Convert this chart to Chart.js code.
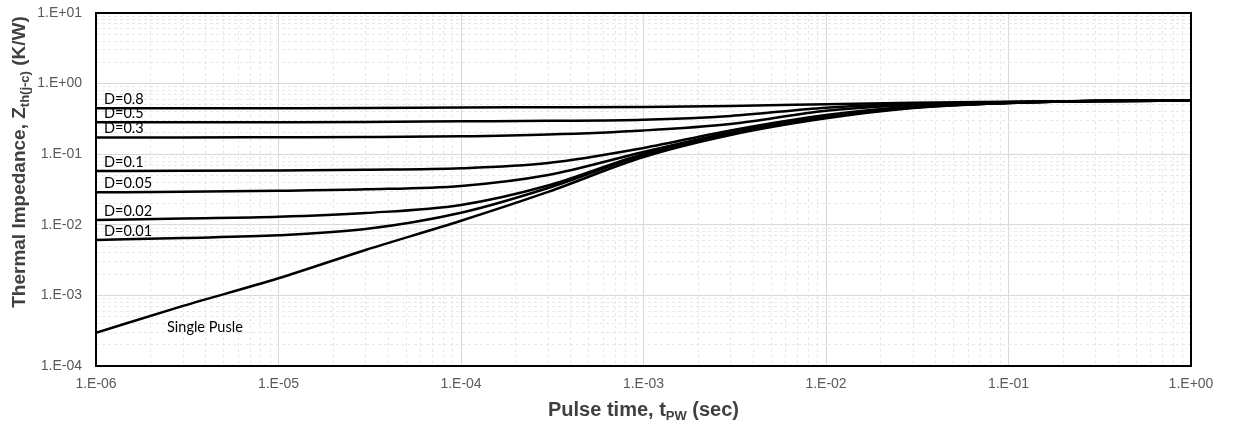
<!DOCTYPE html>
<html>
<head>
<meta charset="utf-8">
<script src="https://cdn.jsdelivr.net/npm/chart.js@4.4.1/dist/chart.umd.min.js"></script>
<style>
  html, body { margin: 0; padding: 0; background: #fff; }
  #wrap { width: 1235px; height: 425px; }
</style>
</head>
<body>
<div id="wrap"><canvas id="zthChart" width="1235" height="425"></canvas></div>
<script>
// Pulse time (s) sample points
const pulseTimes = [1e-6, 3e-6, 1e-5, 3e-5, 1e-4, 3e-4, 1e-3, 3e-3, 1e-2, 3e-2, 1e-1, 3e-1, 1];

const curveLabels = ['D=0.8', 'D=0.5', 'D=0.3', 'D=0.1', 'D=0.05', 'D=0.02', 'D=0.01', 'Single Pusle'];

// Zth(j-c) in K/W
const zthD08    = [0.447, 0.448, 0.449, 0.451, 0.459, 0.462, 0.466, 0.482, 0.509, 0.535, 0.552, 0.567, 0.573];
const zthD05    = [0.283, 0.283, 0.284, 0.286, 0.292, 0.297, 0.307, 0.348, 0.456, 0.514, 0.548, 0.567, 0.573];
const zthD03    = [0.173, 0.173, 0.174, 0.175, 0.179, 0.190, 0.217, 0.268, 0.413, 0.498, 0.543, 0.567, 0.573];
const zthD01    = [0.0578, 0.0581, 0.0588, 0.0601, 0.0631, 0.075, 0.1225, 0.217, 0.359, 0.474, 0.540, 0.567, 0.573];
const zthD005   = [0.0288, 0.0293, 0.0304, 0.0318, 0.0355, 0.0507, 0.1075, 0.203, 0.344, 0.467, 0.535, 0.567, 0.573];
const zthD002   = [0.0117, 0.0123, 0.0130, 0.0147, 0.0191, 0.0360, 0.1007, 0.196, 0.336, 0.461, 0.533, 0.567, 0.573];
const zthD001   = [0.0061, 0.0065, 0.0071, 0.0087, 0.0148, 0.0332, 0.0975, 0.193, 0.331, 0.459, 0.531, 0.567, 0.573];
const zthSingle = [0.000296, 0.00071, 0.00175, 0.0044, 0.0114, 0.0292, 0.0912, 0.187, 0.322, 0.451, 0.531, 0.567, 0.573];

const xDecades = [1e-6, 1e-5, 1e-4, 1e-3, 1e-2, 1e-1, 1];
const xTickLabels = ['1.E-06', '1.E-05', '1.E-04', '1.E-03', '1.E-02', '1.E-01', '1.E+00'];
const yDecades = [1e-4, 1e-3, 1e-2, 1e-1, 1, 10];
const yTickLabels = ['1.E-04', '1.E-03', '1.E-02', '1.E-01', '1.E+00', '1.E+01'];

// where the "Single Pusle" note sits (data coords)
const singleNoteAt = { x: 2.45e-6, y: 3.0e-4 };

const tickFont = { family: '"Liberation Sans", Arial, sans-serif', size: 14 };
const noteFont = '14.5px Lato, "Noto Sans", sans-serif';

function decadeIndex(decades, v) {
  return decades.findIndex(d => Math.abs(Math.log10(v) - Math.log10(d)) < 1e-6);
}

// decade ticks plus 2..9 minor ticks, for Excel-like grid
function logTicks(decades) {
  const ticks = [];
  decades.forEach((d, i) => {
    ticks.push({ value: d, major: true });
    if (i < decades.length - 1) {
      for (let m = 2; m <= 9; m++) ticks.push({ value: d * m, major: false });
    }
  });
  return ticks;
}

function axisOptions(decades, labels, min, max, padding) {
  return {
    type: 'logarithmic',
    min, max,
    afterBuildTicks: scale => { scale.ticks = logTicks(decades); },
    ticks: {
      autoSkip: false,
      maxRotation: 0,
      padding,
      color: '#595959',
      font: tickFont,
      callback: v => {
        const i = decadeIndex(decades, v);
        return i >= 0 ? labels[i] : '';
      }
    },
    grid: {
      drawTicks: false,
      lineWidth: 1,
      color: ctx => (ctx.tick && decadeIndex(decades, ctx.tick.value) >= 0) ? '#d9d9d9' : '#e8e8e8'
    },
    border: {
      display: false,
      dash: ctx => (ctx.tick && decadeIndex(decades, ctx.tick.value) < 0) ? [3, 3] : []
    }
  };
}

function drawPieces(ctx, pieces, cx, baseline) {
  // pieces: [text, size, shift]
  let total = 0;
  pieces.forEach(p => {
    ctx.font = 'bold ' + p[1] + 'px "Liberation Sans", Arial, sans-serif';
    total += ctx.measureText(p[0]).width;
  });
  let x = cx - total / 2;
  ctx.textAlign = 'left';
  ctx.textBaseline = 'alphabetic';
  pieces.forEach(p => {
    ctx.font = 'bold ' + p[1] + 'px "Liberation Sans", Arial, sans-serif';
    ctx.fillText(p[0], x, baseline + (p[2] || 0));
    x += ctx.measureText(p[0]).width;
  });
}

const chartDecor = {
  id: 'chartDecor',
  afterDatasetsDraw(chart) {
    const { ctx, chartArea, scales } = chart;
    ctx.save();

    // curve labels at the left edge
    ctx.fillStyle = '#000';
    ctx.font = noteFont;
    ctx.textAlign = 'left';
    ctx.textBaseline = 'alphabetic';
    chart.data.datasets.forEach(ds => {
      if (ds.label === 'Single Pusle') return;
      const y = scales.y.getPixelForValue(ds.data[0].y);
      ctx.fillText(ds.label, chartArea.left + 8, y - 4);
    });
    ctx.fillText('Single Pusle', scales.x.getPixelForValue(singleNoteAt.x), scales.y.getPixelForValue(singleNoteAt.y));

    // plot frame
    ctx.strokeStyle = '#000';
    ctx.lineWidth = 2;
    ctx.strokeRect(chartArea.left, chartArea.top, chartArea.right - chartArea.left, chartArea.bottom - chartArea.top);

    // axis titles
    ctx.fillStyle = '#404040';
    drawPieces(ctx, [['Pulse time, t', 20], ['PW', 13, 4], [' (sec)', 20]],
      (chartArea.left + chartArea.right) / 2, 416);

    ctx.translate(25, 162);
    ctx.rotate(-Math.PI / 2);
    drawPieces(ctx, [['Thermal Impedance, Z', 19], ['th(j-c)', 13, 4], [' (K/W)', 19]], 0, 0);
    ctx.restore();
  }
};

const series = [zthD08, zthD05, zthD03, zthD01, zthD005, zthD002, zthD001, zthSingle];

const ctx = document.getElementById('zthChart').getContext('2d');
new Chart(ctx, {
  type: 'line',
  data: {
    datasets: series.map((vals, i) => ({
      label: curveLabels[i],
      data: pulseTimes.map((t, k) => ({ x: t, y: vals[k] })),
      borderColor: '#000',
      borderWidth: 2.5,
      pointRadius: 0,
      fill: false,
      cubicInterpolationMode: 'monotone'
    }))
  },
  options: {
    responsive: false,
    animation: false,
    devicePixelRatio: 1,
    layout: { padding: { top: 13, right: 44, left: 0, bottom: 0 } },
    plugins: {
      legend: { display: false },
      tooltip: { enabled: false }
    },
    scales: {
      x: Object.assign(axisOptions(xDecades, xTickLabels, 1e-6, 1, 10), {
        afterFit: s => { s.height = 59; s.paddingLeft = 0; s.paddingRight = 0; }
      }),
      y: Object.assign(axisOptions(yDecades, yTickLabels, 1e-4, 10, 14), {
        afterFit: s => { s.width = 96; s.paddingTop = 0; s.paddingBottom = 0; }
      })
    }
  },
  plugins: [chartDecor]
});
</script>
</body>
</html>
